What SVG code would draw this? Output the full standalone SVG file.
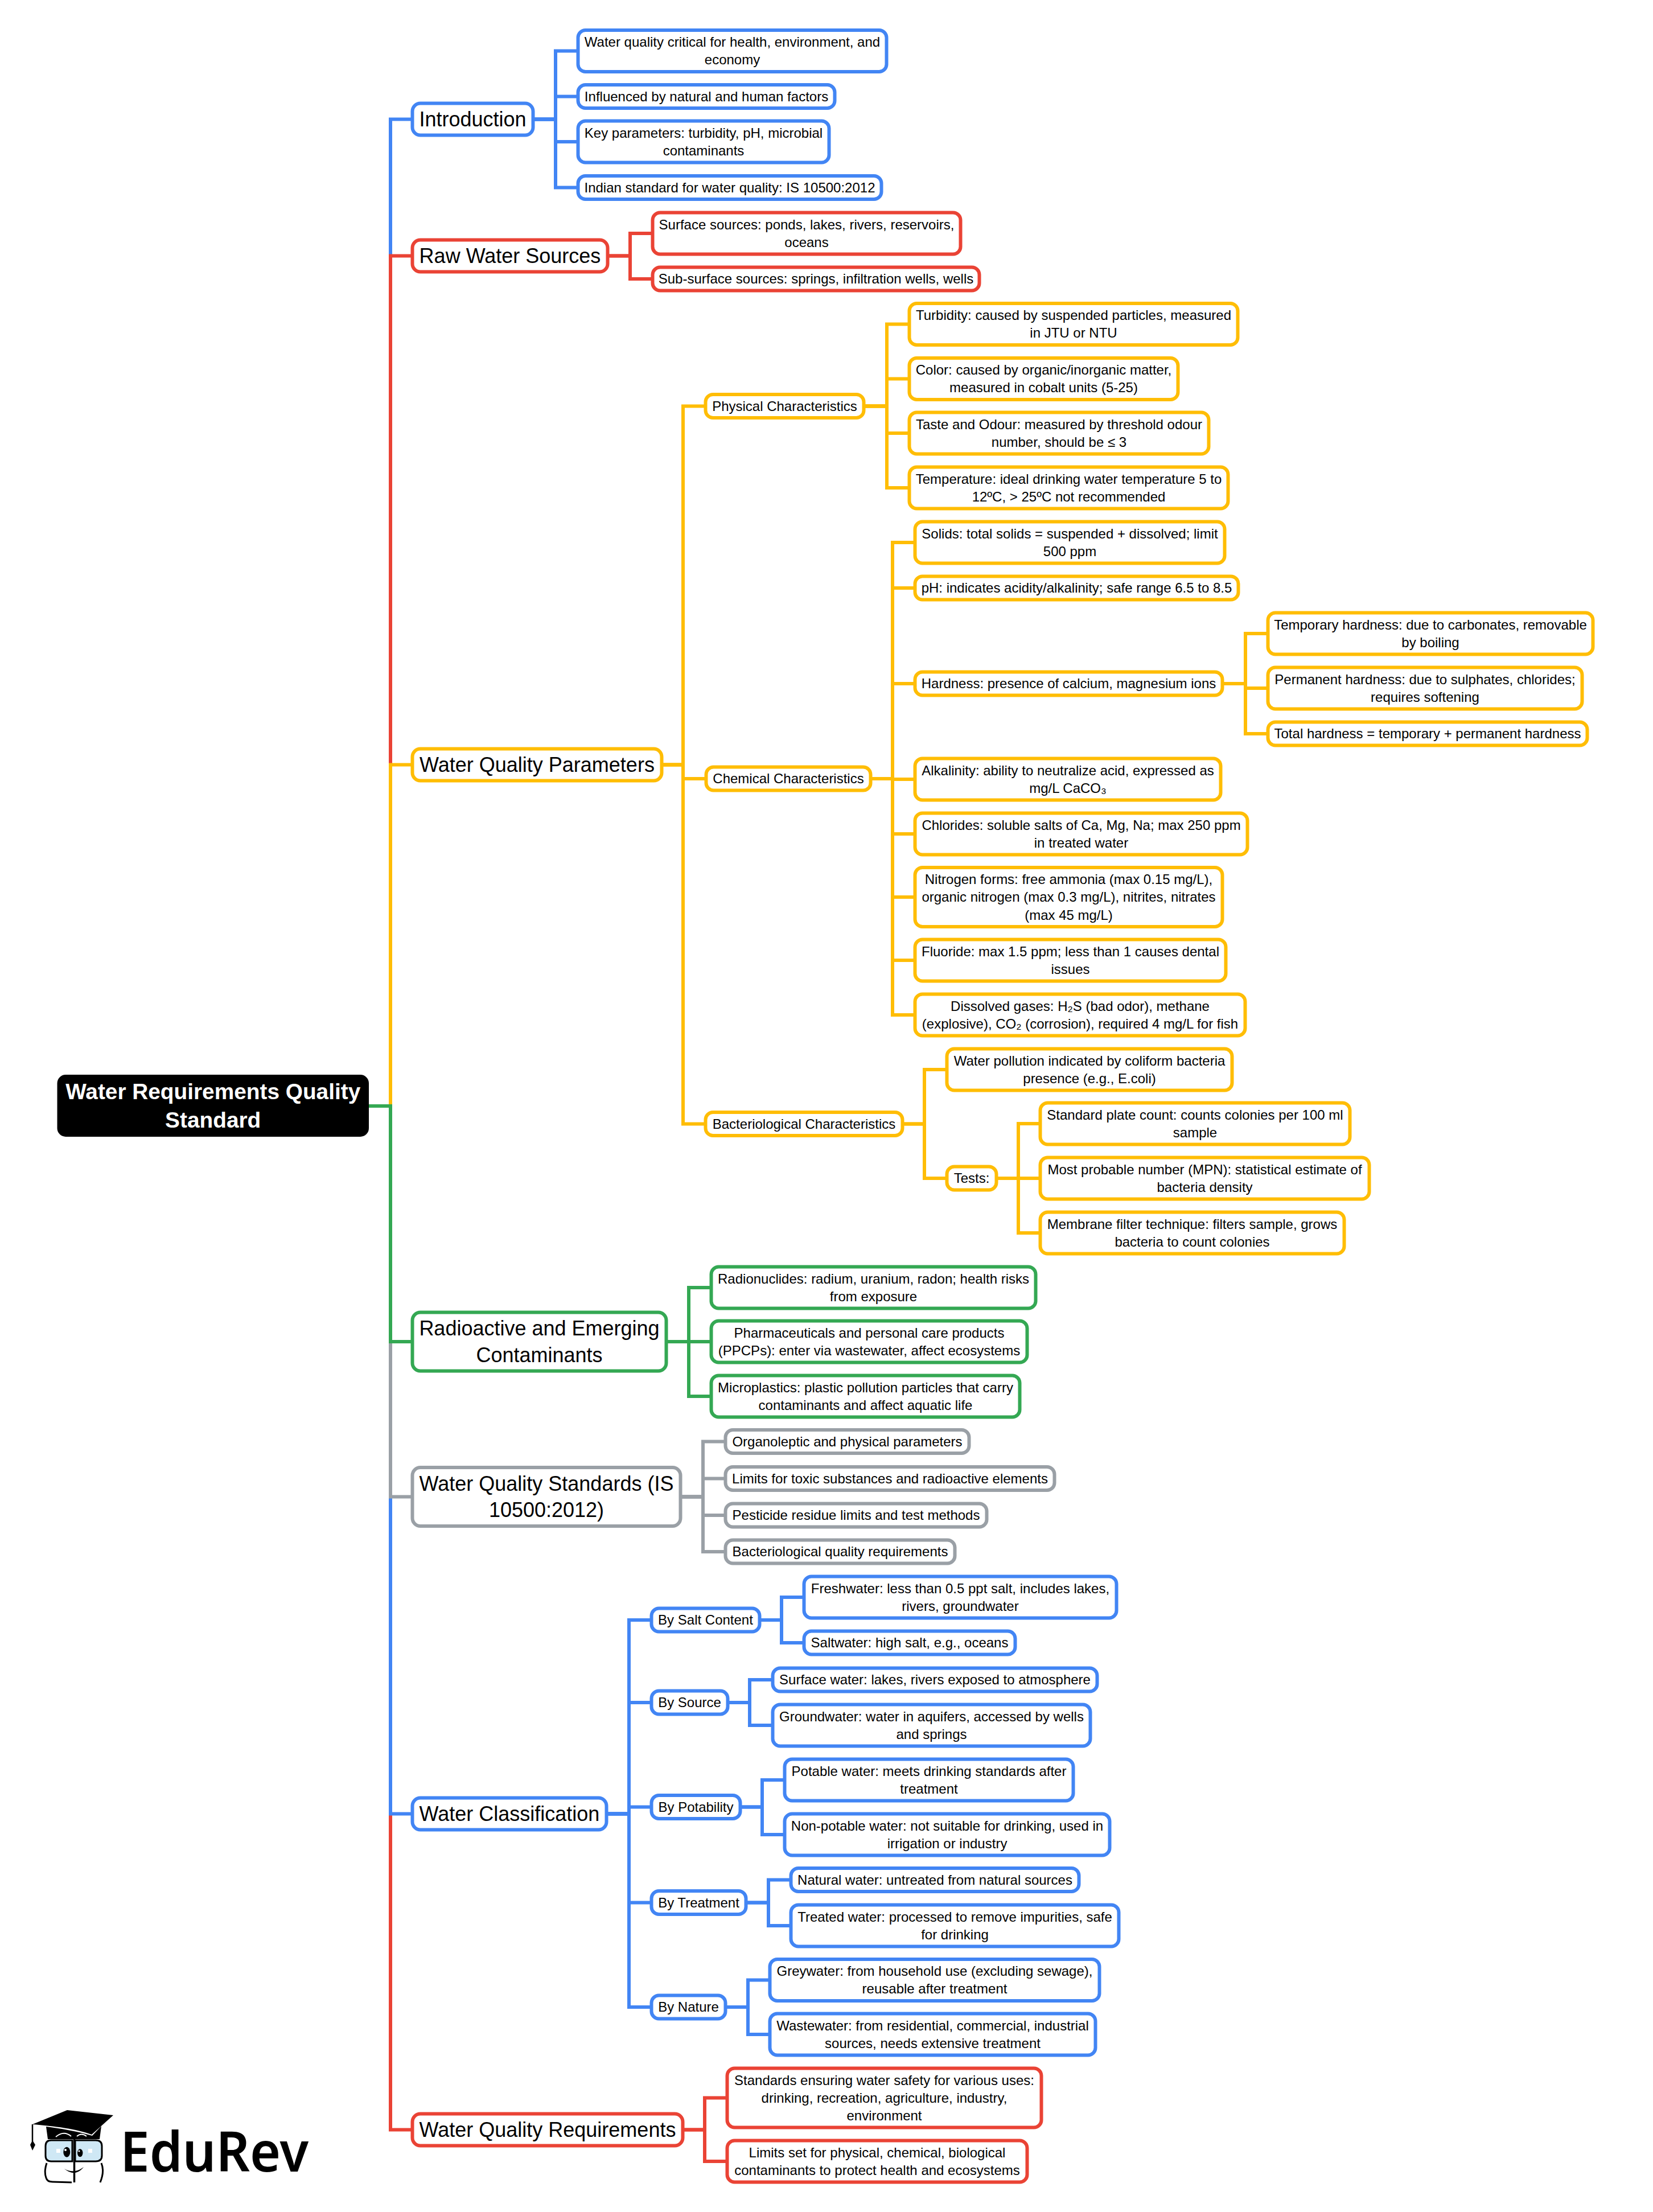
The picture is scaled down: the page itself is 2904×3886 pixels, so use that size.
<svg xmlns="http://www.w3.org/2000/svg" width="2904" height="3886" viewBox="0 0 2904 3886">
<style>
text{font-family:"Liberation Sans",Arial,"DejaVu Sans",sans-serif;font-size:24px;fill:#000;text-anchor:middle}
.t text{font-size:36px}
#root text{font-size:38.8px;font-weight:700;fill:#fff}
rect{fill:#fff;stroke-width:6}
#root rect{fill:#000;stroke:none}
.blue rect{stroke:#4285F4}.red rect{stroke:#EA4335}.or rect{stroke:#FFBD05}.gr rect{stroke:#34A853}.gy rect{stroke:#9AA0A6}
#connectors path{fill:none;stroke-width:6;stroke-linecap:butt;stroke-linejoin:miter}
path.blue{stroke:#4285F4}path.red{stroke:#EA4335}path.or{stroke:#FFBD05}path.gr{stroke:#34A853}path.gy{stroke:#9AA0A6}
#logo text{font-family:"Noto Sans","Open Sans",sans-serif;font-size:97px;font-weight:600;text-anchor:start}
</style>
<rect x="0" y="0" width="2904" height="3886" style="stroke:none"/>
<g id="connectors">
<path class="blue" d="M648 1943H686V209.500H722"/>
<path class="red" d="M648 1943H686V449.500H722"/>
<path class="or" d="M648 1943H686V1343.500H722"/>
<path class="red" d="M648 1943H686V3741.500H722"/>
<path class="blue" d="M648 1943H686V3186.500H722"/>
<path class="gy" d="M648 1943H686V2629.500H722"/>
<path class="gr" d="M648 1943H686V2357H722"/>
<path class="blue" d="M939 209.500H976V89.500H1013"/>
<path class="blue" d="M939 209.500H976V169.500H1013"/>
<path class="blue" d="M939 209.500H976V249H1013"/>
<path class="blue" d="M939 209.500H976V329.500H1013"/>
<path class="red" d="M1070 449.500H1107V410H1144"/>
<path class="red" d="M1070 449.500H1107V490H1144"/>
<path class="or" d="M1165 1343.500H1200V713.500H1237"/>
<path class="or" d="M1165 1343.500H1200V1368H1238"/>
<path class="or" d="M1165 1343.500H1200V1974.500H1237"/>
<path class="or" d="M1520 713.500H1558V569.500H1595"/>
<path class="or" d="M1520 713.500H1558V665.500H1595"/>
<path class="or" d="M1520 713.500H1558V761H1595"/>
<path class="or" d="M1520 713.500H1558V857H1595"/>
<path class="or" d="M1532 1368H1568V953H1605"/>
<path class="or" d="M1532 1368H1568V1033H1605"/>
<path class="or" d="M1532 1368H1568V1201H1605"/>
<path class="or" d="M1532 1368H1568V1369H1605"/>
<path class="or" d="M1532 1368H1568V1465H1605"/>
<path class="or" d="M1532 1368H1568V1576H1605"/>
<path class="or" d="M1532 1368H1568V1687H1605"/>
<path class="or" d="M1532 1368H1568V1783H1605"/>
<path class="or" d="M2150 1201H2188V1113H2225"/>
<path class="or" d="M2150 1201H2188V1209H2225"/>
<path class="or" d="M2150 1201H2188V1289H2225"/>
<path class="or" d="M1588 1974.500H1624V1879H1661"/>
<path class="or" d="M1588 1974.500H1624V2070H1661"/>
<path class="or" d="M1753 2070H1789V1974H1825"/>
<path class="or" d="M1753 2070H1789V2070H1825"/>
<path class="or" d="M1753 2070H1789V2166H1825"/>
<path class="gr" d="M1173 2357H1210V2262H1247"/>
<path class="gr" d="M1173 2357H1210V2357H1247"/>
<path class="gr" d="M1173 2357H1210V2453H1247"/>
<path class="gy" d="M1198 2629.500H1235V2532.500H1272"/>
<path class="gy" d="M1198 2629.500H1235V2597.500H1272"/>
<path class="gy" d="M1198 2629.500H1235V2662H1272"/>
<path class="gy" d="M1198 2629.500H1235V2726H1272"/>
<path class="blue" d="M1068 3186.500H1105V2846H1142"/>
<path class="blue" d="M1068 3186.500H1105V2991H1142"/>
<path class="blue" d="M1068 3186.500H1105V3174.500H1142"/>
<path class="blue" d="M1068 3186.500H1105V3342.500H1142"/>
<path class="blue" d="M1068 3186.500H1105V3526H1142"/>
<path class="blue" d="M1337 2846H1373V2806H1410"/>
<path class="blue" d="M1337 2846H1373V2886H1410"/>
<path class="blue" d="M1281 2991H1317V2951H1355"/>
<path class="blue" d="M1281 2991H1317V3031H1355"/>
<path class="blue" d="M1303 3174.500H1339V3127H1376"/>
<path class="blue" d="M1303 3174.500H1339V3223H1376"/>
<path class="blue" d="M1313 3342.500H1350V3302.500H1387"/>
<path class="blue" d="M1313 3342.500H1350V3383H1387"/>
<path class="blue" d="M1277 3526H1314V3478.500H1350"/>
<path class="blue" d="M1277 3526H1314V3574H1350"/>
<path class="red" d="M1202 3741.500H1238V3685.500H1275"/>
<path class="red" d="M1202 3741.500H1238V3797H1275"/>
</g>
<g id="root"><rect x="100.500" y="1888" width="547.500" height="109" rx="15"/><text x="374.200" y="1931">Water Requirements Quality<tspan x="374.200" dy="49.900">Standard</tspan></text></g>
<g id="n-intro" class="t blue"><rect x="724.500" y="181.500" width="212" height="56" rx="14"/><text x="830.500" y="222">Introduction</text></g>
<g id="n-i1" class="blue"><rect x="1015.500" y="53" width="542" height="73" rx="13"/><text x="1286.500" y="82.200">Water quality critical for health, environment, and<tspan x="1286.500" dy="31.200">economy</tspan></text></g>
<g id="n-i2" class="blue"><rect x="1015.500" y="149" width="451" height="41" rx="13"/><text x="1241" y="177.800">Influenced by natural and human factors</text></g>
<g id="n-i3" class="blue"><rect x="1015.500" y="212.500" width="441" height="73" rx="13"/><text x="1236" y="241.700">Key parameters: turbidity, pH, microbial<tspan x="1236" dy="31.200">contaminants</tspan></text></g>
<g id="n-i4" class="blue"><rect x="1015.500" y="309" width="533" height="41" rx="13"/><text x="1282" y="337.800">Indian standard for water quality: IS 10500:2012</text></g>
<g id="n-raw" class="t red"><rect x="724.500" y="421.500" width="343" height="56" rx="14"/><text x="896" y="462">Raw Water Sources</text></g>
<g id="n-r1" class="red"><rect x="1146.500" y="373.500" width="541" height="73" rx="13"/><text x="1417" y="402.700">Surface sources: ponds, lakes, rivers, reservoirs,<tspan x="1417" dy="31.200">oceans</tspan></text></g>
<g id="n-r2" class="red"><rect x="1146.500" y="469.500" width="574" height="41" rx="13"/><text x="1433.500" y="498.300">Sub-surface sources: springs, infiltration wells, wells</text></g>
<g id="n-wqp" class="t or"><rect x="724.500" y="1315.500" width="438" height="56" rx="14"/><text x="943.500" y="1356">Water Quality Parameters</text></g>
<g id="n-phys" class="or"><rect x="1239.500" y="693" width="278" height="41" rx="13"/><text x="1378.500" y="721.800">Physical Characteristics</text></g>
<g id="n-p1" class="or"><rect x="1597.500" y="533" width="577" height="73" rx="13"/><text x="1886" y="562.200">Turbidity: caused by suspended particles, measured<tspan x="1886" dy="31.200">in JTU or NTU</tspan></text></g>
<g id="n-p2" class="or"><rect x="1597.500" y="629" width="472" height="73" rx="13"/><text x="1833.500" y="658.200">Color: caused by organic/inorganic matter,<tspan x="1833.500" dy="31.200">measured in cobalt units (5-25)</tspan></text></g>
<g id="n-p3" class="or"><rect x="1597.500" y="724.500" width="526" height="73" rx="13"/><text x="1860.500" y="753.700">Taste and Odour: measured by threshold odour<tspan x="1860.500" dy="31.200">number, should be ≤ 3</tspan></text></g>
<g id="n-p4" class="or"><rect x="1597.500" y="820.500" width="560" height="73" rx="13"/><text x="1877.500" y="849.700">Temperature: ideal drinking water temperature 5 to<tspan x="1877.500" dy="31.200">12ºC, &gt; 25ºC not recommended</tspan></text></g>
<g id="n-chem" class="or"><rect x="1240.500" y="1347.500" width="289" height="41" rx="13"/><text x="1385" y="1376.300">Chemical Characteristics</text></g>
<g id="n-c1" class="or"><rect x="1607.500" y="916.500" width="544" height="73" rx="13"/><text x="1879.500" y="945.700">Solids: total solids = suspended + dissolved; limit<tspan x="1879.500" dy="31.200">500 ppm</tspan></text></g>
<g id="n-c2" class="or"><rect x="1607.500" y="1012.500" width="568" height="41" rx="13"/><text x="1891.500" y="1041.300">pH: indicates acidity/alkalinity; safe range 6.5 to 8.5</text></g>
<g id="n-c3" class="or"><rect x="1607.500" y="1180.500" width="540" height="41" rx="13"/><text x="1877.500" y="1209.300">Hardness: presence of calcium, magnesium ions</text></g>
<g id="n-c4" class="or"><rect x="1607.500" y="1332.500" width="537" height="73" rx="13"/><text x="1876" y="1361.700">Alkalinity: ability to neutralize acid, expressed as<tspan x="1876" dy="31.200">mg/L CaCO₃</tspan></text></g>
<g id="n-c5" class="or"><rect x="1607.500" y="1428.500" width="584" height="73" rx="13"/><text x="1899.500" y="1457.700">Chlorides: soluble salts of Ca, Mg, Na; max 250 ppm<tspan x="1899.500" dy="31.200">in treated water</tspan></text></g>
<g id="n-c6" class="or"><rect x="1607.500" y="1524" width="540" height="104" rx="13"/><text x="1877.500" y="1553.100">Nitrogen forms: free ammonia (max 0.15 mg/L),<tspan x="1877.500" dy="31.200">organic nitrogen (max 0.3 mg/L), nitrites, nitrates</tspan><tspan x="1877.500" dy="31.200">(max 45 mg/L)</tspan></text></g>
<g id="n-c7" class="or"><rect x="1607.500" y="1650.500" width="546" height="73" rx="13"/><text x="1880.500" y="1679.700">Fluoride: max 1.5 ppm; less than 1 causes dental<tspan x="1880.500" dy="31.200">issues</tspan></text></g>
<g id="n-c8" class="or"><rect x="1607.500" y="1746.500" width="580" height="73" rx="13"/><text x="1897.500" y="1775.700">Dissolved gases: H₂S (bad odor), methane<tspan x="1897.500" dy="31.200">(explosive), CO₂ (corrosion), required 4 mg/L for fish</tspan></text></g>
<g id="n-h1" class="or"><rect x="2227.500" y="1076.500" width="571" height="73" rx="13"/><text x="2513" y="1105.700">Temporary hardness: due to carbonates, removable<tspan x="2513" dy="31.200">by boiling</tspan></text></g>
<g id="n-h2" class="or"><rect x="2227.500" y="1172.500" width="552" height="73" rx="13"/><text x="2503.500" y="1201.700">Permanent hardness: due to sulphates, chlorides;<tspan x="2503.500" dy="31.200">requires softening</tspan></text></g>
<g id="n-h3" class="or"><rect x="2227.500" y="1268.500" width="561" height="41" rx="13"/><text x="2508" y="1297.300">Total hardness = temporary + permanent hardness</text></g>
<g id="n-bact" class="or"><rect x="1239.500" y="1954" width="346" height="41" rx="13"/><text x="1412.500" y="1982.800">Bacteriological Characteristics</text></g>
<g id="n-b1" class="or"><rect x="1663.500" y="1842.500" width="501" height="73" rx="13"/><text x="1914" y="1871.700">Water pollution indicated by coliform bacteria<tspan x="1914" dy="31.200">presence (e.g., E.coli)</tspan></text></g>
<g id="n-tests" class="or"><rect x="1663.500" y="2049.500" width="87" height="41" rx="13"/><text x="1707" y="2078.300">Tests:</text></g>
<g id="n-t1" class="or"><rect x="1827.500" y="1937.500" width="544" height="73" rx="13"/><text x="2099.500" y="1966.700">Standard plate count: counts colonies per 100 ml<tspan x="2099.500" dy="31.200">sample</tspan></text></g>
<g id="n-t2" class="or"><rect x="1827.500" y="2033.500" width="578" height="73" rx="13"/><text x="2116.500" y="2062.700">Most probable number (MPN): statistical estimate of<tspan x="2116.500" dy="31.200">bacteria density</tspan></text></g>
<g id="n-t3" class="or"><rect x="1827.500" y="2129.500" width="534" height="73" rx="13"/><text x="2094.500" y="2158.700">Membrane filter technique: filters sample, grows<tspan x="2094.500" dy="31.200">bacteria to count colonies</tspan></text></g>
<g id="n-radio" class="t gr"><rect x="724.500" y="2305.500" width="446" height="103" rx="14"/><text x="947.500" y="2346.100">Radioactive and Emerging<tspan x="947.500" dy="46.800">Contaminants</tspan></text></g>
<g id="n-ra1" class="gr"><rect x="1249.500" y="2225.500" width="570" height="73" rx="13"/><text x="1534.500" y="2254.700">Radionuclides: radium, uranium, radon; health risks<tspan x="1534.500" dy="31.200">from exposure</tspan></text></g>
<g id="n-ra2" class="gr"><rect x="1249.500" y="2320.500" width="555" height="73" rx="13"/><text x="1527" y="2349.700">Pharmaceuticals and personal care products<tspan x="1527" dy="31.200">(PPCPs): enter via wastewater, affect ecosystems</tspan></text></g>
<g id="n-ra3" class="gr"><rect x="1249.500" y="2416.500" width="542" height="73" rx="13"/><text x="1520.500" y="2445.700">Microplastics: plastic pollution particles that carry<tspan x="1520.500" dy="31.200">contaminants and affect aquatic life</tspan></text></g>
<g id="n-std" class="t gy"><rect x="724.500" y="2578" width="471" height="103" rx="14"/><text x="960" y="2618.600">Water Quality Standards (IS<tspan x="960" dy="46.800">10500:2012)</tspan></text></g>
<g id="n-s1" class="gy"><rect x="1274.500" y="2512" width="428" height="41" rx="13"/><text x="1488.500" y="2540.800">Organoleptic and physical parameters</text></g>
<g id="n-s2" class="gy"><rect x="1274.500" y="2577" width="578" height="41" rx="13"/><text x="1563.500" y="2605.800">Limits for toxic substances and radioactive elements</text></g>
<g id="n-s3" class="gy"><rect x="1274.500" y="2641.500" width="459" height="41" rx="13"/><text x="1504" y="2670.300">Pesticide residue limits and test methods</text></g>
<g id="n-s4" class="gy"><rect x="1274.500" y="2705.500" width="403" height="41" rx="13"/><text x="1476" y="2734.300">Bacteriological quality requirements</text></g>
<g id="n-class" class="t blue"><rect x="724.500" y="3158.500" width="341" height="56" rx="14"/><text x="895" y="3199">Water Classification</text></g>
<g id="n-salt" class="blue"><rect x="1144.500" y="2825.500" width="190" height="41" rx="13"/><text x="1239.500" y="2854.300">By Salt Content</text></g>
<g id="n-source" class="blue"><rect x="1144.500" y="2970.500" width="134" height="41" rx="13"/><text x="1211.500" y="2999.300">By Source</text></g>
<g id="n-pot" class="blue"><rect x="1144.500" y="3154" width="156" height="41" rx="13"/><text x="1222.500" y="3182.800">By Potability</text></g>
<g id="n-treat" class="blue"><rect x="1144.500" y="3322" width="166" height="41" rx="13"/><text x="1227.500" y="3350.800">By Treatment</text></g>
<g id="n-nature" class="blue"><rect x="1144.500" y="3505.500" width="130" height="41" rx="13"/><text x="1209.500" y="3534.300">By Nature</text></g>
<g id="n-w1" class="blue"><rect x="1412.500" y="2769.500" width="549" height="73" rx="13"/><text x="1687" y="2798.700">Freshwater: less than 0.5 ppt salt, includes lakes,<tspan x="1687" dy="31.200">rivers, groundwater</tspan></text></g>
<g id="n-w2" class="blue"><rect x="1412.500" y="2865.500" width="371" height="41" rx="13"/><text x="1598" y="2894.300">Saltwater: high salt, e.g., oceans</text></g>
<g id="n-w3" class="blue"><rect x="1357.500" y="2930.500" width="570" height="41" rx="13"/><text x="1642.500" y="2959.300">Surface water: lakes, rivers exposed to atmosphere</text></g>
<g id="n-w4" class="blue"><rect x="1357.500" y="2994.500" width="558" height="73" rx="13"/><text x="1636.500" y="3023.700">Groundwater: water in aquifers, accessed by wells<tspan x="1636.500" dy="31.200">and springs</tspan></text></g>
<g id="n-w5" class="blue"><rect x="1378.500" y="3090.500" width="507" height="73" rx="13"/><text x="1632" y="3119.700">Potable water: meets drinking standards after<tspan x="1632" dy="31.200">treatment</tspan></text></g>
<g id="n-w6" class="blue"><rect x="1378.500" y="3186.500" width="571" height="73" rx="13"/><text x="1664" y="3215.700">Non-potable water: not suitable for drinking, used in<tspan x="1664" dy="31.200">irrigation or industry</tspan></text></g>
<g id="n-w7" class="blue"><rect x="1389.500" y="3282" width="506" height="41" rx="13"/><text x="1642.500" y="3310.800">Natural water: untreated from natural sources</text></g>
<g id="n-w8" class="blue"><rect x="1389.500" y="3346.500" width="576" height="73" rx="13"/><text x="1677.500" y="3375.700">Treated water: processed to remove impurities, safe<tspan x="1677.500" dy="31.200">for drinking</tspan></text></g>
<g id="n-w9" class="blue"><rect x="1352.500" y="3442" width="579" height="73" rx="13"/><text x="1642" y="3471.200">Greywater: from household use (excluding sewage),<tspan x="1642" dy="31.200">reusable after treatment</tspan></text></g>
<g id="n-w10" class="blue"><rect x="1352.500" y="3537.500" width="572" height="73" rx="13"/><text x="1638.500" y="3566.700">Wastewater: from residential, commercial, industrial<tspan x="1638.500" dy="31.200">sources, needs extensive treatment</tspan></text></g>
<g id="n-req" class="t red"><rect x="724.500" y="3713.500" width="475" height="56" rx="14"/><text x="962" y="3754">Water Quality Requirements</text></g>
<g id="n-q1" class="red"><rect x="1277.500" y="3633.500" width="552" height="104" rx="13"/><text x="1553.500" y="3662.600">Standards ensuring water safety for various uses:<tspan x="1553.500" dy="31.200">drinking, recreation, agriculture, industry,</tspan><tspan x="1553.500" dy="31.200">environment</tspan></text></g>
<g id="n-q2" class="red"><rect x="1277.500" y="3760.500" width="527" height="73" rx="13"/><text x="1541" y="3789.700">Limits set for physical, chemical, biological<tspan x="1541" dy="31.200">contaminants to protect health and ecosystems</tspan></text></g>
<g id="logo">
<path d="M57 3732L118 3707L199 3716L161 3750C135 3740 95 3735 57 3732Z" fill="#000"/>
<path d="M81 3736C105 3739 135 3744 162 3752L178 3735L175 3758H84Z" fill="#000"/>
<path d="M98 3754Q112 3742 125 3753M135 3753Q143 3746 152 3753" fill="none" stroke="#fff" stroke-width="2"/>
<path d="M57 3732V3762" stroke="#000" stroke-width="2.500" fill="none"/>
<path d="M57 3760L53 3768L57 3778L62 3768Z" fill="#000"/>
<path d="M90 3760H127V3797H90Q80 3797 80 3787V3770Q80 3760 90 3760Z" style="fill:#CFE8F5;stroke:#000;stroke-width:3"/>
<path d="M132 3760H168Q179 3760 179 3770V3787Q179 3797 168 3797H132Z" style="fill:#CFE8F5;stroke:#000;stroke-width:3"/>
<path d="M130.500 3757V3834" stroke="#000" stroke-width="3.500" fill="none"/>
<path d="M82 3800Q77 3815 81 3826Q83 3833 92 3833L126 3834M178 3800Q184 3815 176 3834" fill="none" stroke="#000" stroke-width="3"/>
<ellipse cx="117.300" cy="3780.700" rx="6" ry="9" fill="#000"/><circle cx="115" cy="3777" r="2" fill="#fff"/>
<ellipse cx="140.700" cy="3782.300" rx="4.700" ry="7" fill="#000"/><circle cx="139" cy="3779" r="1.500" fill="#fff"/>
<path d="M99 3775h7v7h-7zM155 3775h7v7h-7z" fill="#fff"/>
<path d="M113 3810Q130 3820 147 3807Q132 3826 113 3810Z" fill="#000"/>
<text x="211" y="3815" textLength="331" lengthAdjust="spacingAndGlyphs">EduRev</text>
</g>
</svg>
